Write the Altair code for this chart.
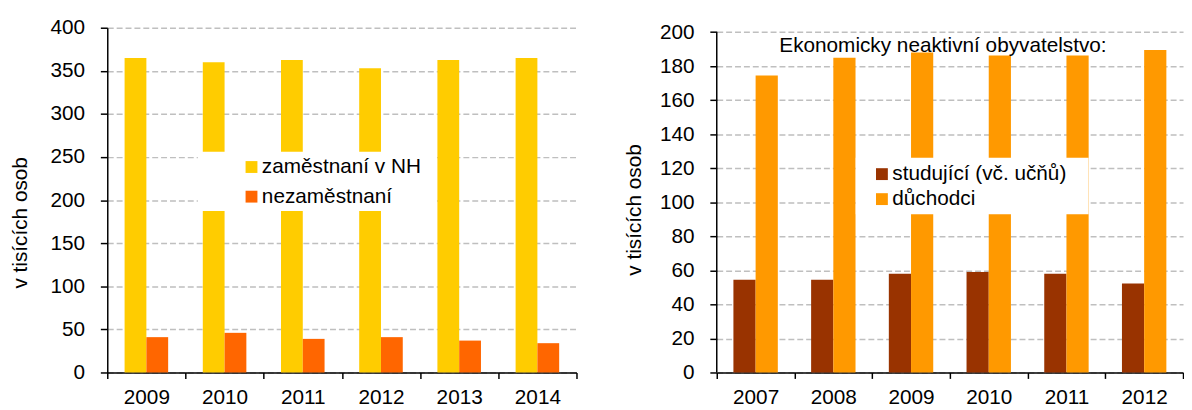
import altair as alt
import pandas as pd

FONT = "Liberation Sans"

# ---- data (left panel) ----
years_left = ["2009", "2010", "2011", "2012", "2013", "2014"]
employed = [365, 360, 362.5, 353, 362.5, 365]
unemployed = [41, 46, 39, 41, 37, 34]
series_left = ["zaměstnaní v NH", "nezaměstnaní"]
colors_left = ["#FFCC00", "#FF6600"]
ticks_left = [0, 50, 100, 150, 200, 250, 300, 350, 400]

# ---- data (right panel) ----
years_right = ["2007", "2008", "2009", "2010", "2011", "2012"]
students = [54.5, 54.5, 58, 59, 58, 52.3]
pensioners = [174.5, 185, 188, 186.3, 186.3, 189.5]
series_right = ["studující (vč. učňů)", "důchodci"]
colors_right = ["#993300", "#FF9900"]
ticks_right = [0, 20, 40, 60, 80, 100, 120, 140, 160, 180, 200]

axis_title = "v tisících osob"
right_note = "Ekonomicky neaktivní obyvatelstvo:"

rows_l = []
for i, y in enumerate(years_left):
    rows_l.append({"year": y, "series": series_left[0], "value": employed[i]})
    rows_l.append({"year": y, "series": series_left[1], "value": unemployed[i]})
df_left = pd.DataFrame(rows_l)

rows_r = []
for i, y in enumerate(years_right):
    rows_r.append({"year": y, "series": series_right[0], "value": students[i]})
    rows_r.append({"year": y, "series": series_right[1], "value": pensioners[i]})
df_right = pd.DataFrame(rows_r)

one = pd.DataFrame({"k": [0]})

GRID = "#BFBFBF"
FS = 21


def x_enc(years):
    return alt.X(
        "year:N", sort=years, title=None,
        scale=alt.Scale(paddingInner=0, paddingOuter=0),
        axis=alt.Axis(labelAngle=0, tickBand="extent", tickSize=6, tickColor="black",
                      tickWidth=1.5, domainColor="black", domainWidth=1.5,
                      labelFontSize=FS, labelFont=FONT, labelColor="black",
                      labelPadding=8, grid=False),
    )


def y_axis(values, title_x, title_y, domain=True):
    return alt.Axis(values=values, title=axis_title, grid=True, gridDash=[6, 3],
                    gridColor=GRID, gridWidth=1.5, tickSize=7, tickColor="black",
                    tickWidth=1.5, domain=domain, domainColor="black", domainWidth=1.5,
                    labelFontSize=FS, labelFont=FONT, labelColor="black", labelPadding=16,
                    labelOverlap=False,
                    titleFontSize=FS, titleFont=FONT, titleFontWeight="normal",
                    titleColor="black", titleX=title_x, titleY=title_y)


def legend(lx, ly, rowpad):
    return alt.Legend(orient="none", legendX=lx, legendY=ly, title=None,
                      symbolType="square", symbolSize=144, symbolStrokeWidth=0,
                      labelFontSize=FS, labelFont=FONT, labelColor="black",
                      labelOffset=0, labelLimit=400, rowPadding=rowpad, padding=0)


# ---- left panel ----
bars_left = alt.Chart(df_left).mark_bar().encode(
    x=x_enc(years_left),
    xOffset=alt.XOffset("series:N", sort=series_left,
                        scale=alt.Scale(paddingInner=0, paddingOuter=0.795)),
    y=alt.Y("value:Q", scale=alt.Scale(domain=[0, 400], nice=False),
            axis=y_axis(ticks_left, -78, 197)),
    color=alt.Color("series:N", sort=series_left,
                    scale=alt.Scale(domain=series_left, range=colors_left),
                    legend=legend(135.5, 130.5, 8)),
)
box_left = alt.Chart(one).mark_rect(color="white").encode(
    x=alt.value(91.7), x2=alt.value(333.7), y=alt.value(125.5), y2=alt.value(185.5))
left = alt.layer(bars_left, box_left).properties(width=475, height=349)

# ---- right panel ----
right_axis = y_axis(ticks_right, -73, 184, domain=False)
bars_right = alt.Chart(df_right).mark_bar().encode(
    x=x_enc(years_right),
    xOffset=alt.XOffset("series:N", sort=series_right,
                        scale=alt.Scale(paddingInner=0, paddingOuter=0.75)),
    y=alt.Y("value:Q", scale=alt.Scale(domain=[0, 202.6], nice=False), axis=right_axis),
    color=alt.Color("series:N", sort=series_right,
                    scale=alt.Scale(domain=series_right, range=colors_right),
                    legend=legend(156.7, 137.7, 3.3)),
)
axis_line = alt.Chart(pd.DataFrame({"y0": [0], "y1": [200]})).mark_rule(
    color="black", strokeWidth=1.5).encode(
    x=alt.value(0), y=alt.Y("y0:Q", axis=right_axis), y2="y1:Q")
box_right = alt.Chart(one).mark_rect(color="white").encode(
    x=alt.value(140.7), x2=alt.value(376.4), y=alt.value(131.5), y2=alt.value(188.8))
note = alt.Chart(one).mark_text(text=right_note, fontSize=FS, font=FONT, color="black",
                                align="center", baseline="middle").encode(
    x=alt.value(229), y=alt.value(18.5))
right = alt.layer(bars_right, axis_line, box_right, note).properties(width=472, height=349)

chart = alt.hconcat(left, right, spacing=47).resolve_scale(
    color="independent", x="independent", y="independent", xOffset="independent"
).resolve_legend(color="independent").properties(
    padding={"top": 6.5, "left": 1.5, "right": 0, "bottom": 0},
    background="white",
).configure_view(stroke=None)

chart.save("out.html", embed_options={"renderer": "svg", "actions": False})
